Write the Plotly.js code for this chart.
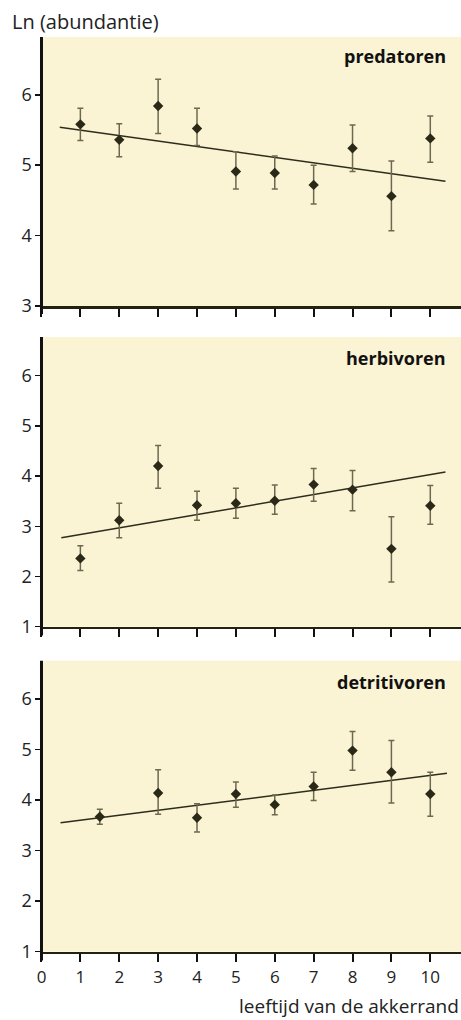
<!DOCTYPE html>
<html>
<head>
<meta charset="utf-8">
<script src="https://cdn.plot.ly/plotly-3.0.1.min.js"></script>
<style>
  html, body { margin: 0; padding: 0; background: #ffffff; }
  #chart { width: 461px; height: 1020px; }
</style>
</head>
<body>
<div id="chart"></div>
<script>
// ---- Data ----
const xTickLabels = ['0','1','2','3','4','5','6','7','8','9','10'];
const xTickVals = [0,1,2,3,4,5,6,7,8,9,10];

// predatoren
const predX   = [1, 2, 3, 4, 5, 6, 7, 8, 9, 10];
const predY   = [5.58, 5.36, 5.84, 5.52, 4.91, 4.89, 4.72, 5.24, 4.56, 5.38];
const predHi  = [5.81, 5.59, 6.22, 5.81, 5.19, 5.13, 5.00, 5.57, 5.06, 5.70];
const predLo  = [5.35, 5.12, 5.45, 5.28, 4.66, 4.66, 4.45, 4.91, 4.07, 5.04];
const predFitX = [0.47, 10.39];
const predFitY = [5.54, 4.77];

// herbivoren
const herbX   = [1, 2, 3, 4, 5, 6, 7, 8, 9, 10];
const herbY   = [2.36, 3.12, 4.20, 3.42, 3.46, 3.51, 3.83, 3.73, 2.55, 3.41];
const herbHi  = [2.61, 3.46, 4.61, 3.70, 3.76, 3.82, 4.15, 4.11, 3.19, 3.81];
const herbLo  = [2.12, 2.77, 3.76, 3.12, 3.16, 3.24, 3.50, 3.31, 1.89, 3.04];
const herbFitX = [0.51, 10.39];
const herbFitY = [2.77, 4.08];

// detritivoren
const detrX   = [1.5, 3, 4, 5, 6, 7, 8, 9, 10];
const detrY   = [3.67, 4.14, 3.65, 4.12, 3.91, 4.27, 4.98, 4.55, 4.12];
const detrHi  = [3.82, 4.60, 3.93, 4.36, 4.10, 4.55, 5.36, 5.18, 4.55];
const detrLo  = [3.52, 3.72, 3.37, 3.86, 3.71, 3.99, 4.59, 3.94, 3.68];
const detrFitX = [0.49, 10.43];
const detrFitY = [3.55, 4.53];

const panelNames = ['predatoren', 'herbivoren', 'detritivoren'];
const yTitle = 'Ln (abundantie)';
const xTitle = 'leeftijd van de akkerrand';

// ---- Styles ----
const FONT = '"Open Sans", "Noto Sans", sans-serif';
const markerColor = '#2a2816';
const errColor = '#6d6950';
const lineColor = '#2e2c1c';

function pointsTrace(x, y, hi, lo, xa, ya) {
  return {
    type: 'scatter', mode: 'markers', x: x, y: y, xaxis: xa, yaxis: ya,
    marker: { symbol: 'diamond', size: 8, color: markerColor },
    error_y: {
      type: 'data', symmetric: false,
      array: hi.map((h, i) => h - y[i]),
      arrayminus: lo.map((l, i) => y[i] - l),
      color: errColor, thickness: 1.5, width: 3
    },
    showlegend: false, hoverinfo: 'x+y'
  };
}
function fitTrace(x, y, xa, ya) {
  return {
    type: 'scatter', mode: 'lines', x: x, y: y, xaxis: xa, yaxis: ya,
    line: { color: lineColor, width: 1.5 },
    showlegend: false, hoverinfo: 'skip'
  };
}

const data = [
  fitTrace(predFitX, predFitY, 'x', 'y'),
  pointsTrace(predX, predY, predHi, predLo, 'x', 'y'),
  fitTrace(herbFitX, herbFitY, 'x2', 'y2'),
  pointsTrace(herbX, herbY, herbHi, herbLo, 'x2', 'y2'),
  fitTrace(detrFitX, detrFitY, 'x3', 'y3'),
  pointsTrace(detrX, detrY, detrHi, detrLo, 'x3', 'y3')
];

const xDomain = [0.09, 1.0];
const xRange = [0, 10.79];

function xAxis(anchor, labels) {
  return {
    domain: xDomain, range: xRange, anchor: anchor,
    tickmode: 'array', tickvals: xTickVals, ticktext: xTickLabels,
    showticklabels: labels,
    ticks: 'outside', ticklen: 8, tickwidth: 2, tickcolor: '#111111',
    showline: true, linecolor: '#23220f', linewidth: 2.5,
    showgrid: false, zeroline: false,
    tickfont: { family: FONT, size: 17, color: '#222222' },
    fixedrange: true
  };
}
function yAxis(anchor, domain, range, vals) {
  return {
    domain: domain, range: range, anchor: anchor,
    tickmode: 'array', tickvals: vals,
    ticks: 'outside', ticklen: 5, tickwidth: 1.5, tickcolor: '#111111',
    showline: false,
    showgrid: false, zeroline: false,
    tickfont: { family: FONT, size: 18, color: '#222222' },
    fixedrange: true
  };
}

const yDomains = [[0.700, 0.9637], [0.3856, 0.6696], [0.067, 0.3523]];

function yLine(yref) {
  return {
    type: 'line', xref: 'paper', yref: yref,
    x0: xDomain[0], x1: xDomain[0], y0: -0.03, y1: 1,
    line: { color: '#111111', width: 3 }
  };
}
function panelLabel(text, xref, yref) {
  return {
    text: '<b>' + text + '</b>', xref: xref, yref: yref,
    x: 0.968, y: 0.928, xanchor: 'right', yanchor: 'middle',
    showarrow: false, font: { family: FONT, size: 18, color: '#111111' }
  };
}

const layout = {
  width: 461, height: 1020,
  margin: { l: 0, r: 0, t: 0, b: 0 },
  paper_bgcolor: '#ffffff',
  plot_bgcolor: '#faf4d4',
  showlegend: false,
  xaxis: xAxis('y', false),
  xaxis2: xAxis('y2', false),
  xaxis3: xAxis('y3', true),
  yaxis: yAxis('x', yDomains[0], [3, 6.82], [3,4,5,6]),
  yaxis2: yAxis('x2', yDomains[1], [1, 6.77], [1,2,3,4,5,6]),
  yaxis3: yAxis('x3', yDomains[2], [1, 6.76], [1,2,3,4,5,6]),
  shapes: [yLine('y domain'), yLine('y2 domain'), yLine('y3 domain')],
  annotations: [
    panelLabel(panelNames[0], 'x domain', 'y domain'),
    panelLabel(panelNames[1], 'x2 domain', 'y2 domain'),
    panelLabel(panelNames[2], 'x3 domain', 'y3 domain'),
    {
      text: yTitle, xref: 'paper', yref: 'paper', x: 0.022, y: 0.979,
      xanchor: 'left', yanchor: 'middle', showarrow: false,
      font: { family: FONT, size: 20, color: '#222222' }
    },
    {
      text: xTitle, xref: 'paper', yref: 'paper', x: 0.998, y: 0.0,
      xanchor: 'right', yanchor: 'bottom', showarrow: false, borderpad: 0,
      font: { family: FONT, size: 19, color: '#222222' }
    }
  ]
};

Plotly.newPlot('chart', data, layout, { staticPlot: true, displayModeBar: false });
</script>
</body>
</html>
